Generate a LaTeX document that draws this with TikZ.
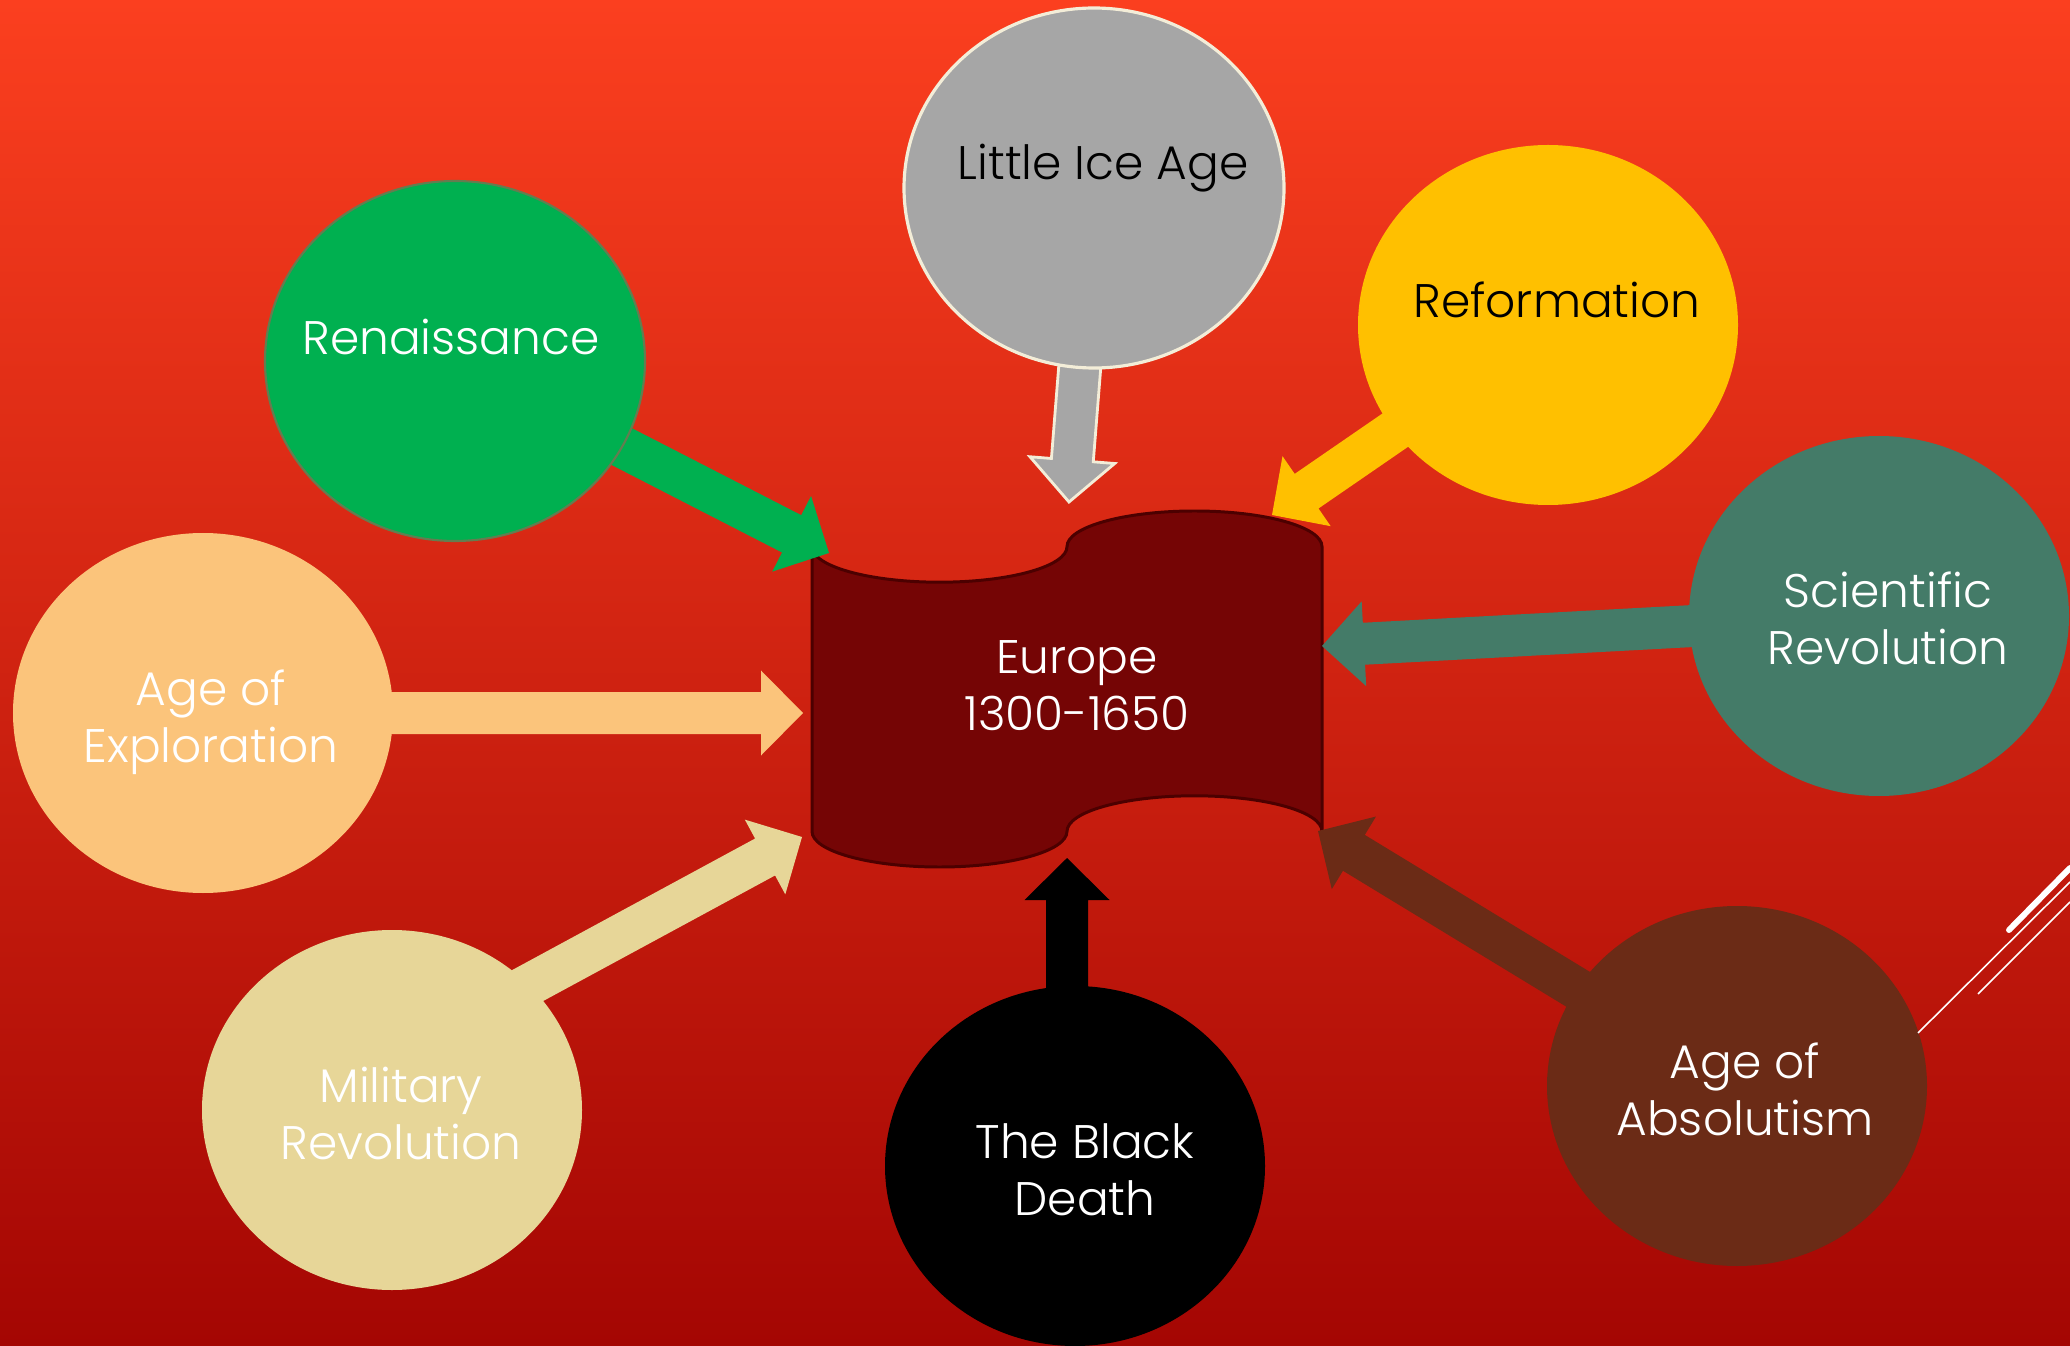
\documentclass[tikz,border=0pt]{standalone}
\usepackage{fontspec}
\setmainfont{Poppins}[UprightFont={* Light}]
\usepackage{tikz}
\usetikzlibrary{calc,shapes.geometric}

\definecolor{bgtop}{HTML}{FB3F1F}
\definecolor{bgmid}{HTML}{D42914}
\definecolor{bgbot}{HTML}{A40603}
\definecolor{eurfill}{HTML}{750505}
\definecolor{eurline}{HTML}{4C0000}
\definecolor{icegray}{HTML}{A6A6A6}
\definecolor{cream}{HTML}{F3EDD8}
\definecolor{rengreen}{HTML}{00B050}
\definecolor{renline}{HTML}{647D50}
\definecolor{refyellow}{HTML}{FFC000}
\definecolor{sciteal}{HTML}{447B68}
\definecolor{exporange}{HTML}{FBC47B}
\definecolor{miltan}{HTML}{E7D698}
\definecolor{absbrown}{HTML}{6B2B16}

% 块状箭头：#1 起点，#2 箭头尖，#3 填充样式
\newcommand{\blockarrow}[3]{%
  \coordinate (hb) at ($(#2)!4.2mm!(#1)$);
  \path[#3] ($(#1)!2.1mm!90:(#2)$) -- ($(hb)!2.1mm!90:(#2)$)
    -- ($(hb)!4.25mm!90:(#2)$) -- (#2) -- ($(hb)!4.25mm!-90:(#2)$)
    -- ($(hb)!2.1mm!-90:(#2)$) -- ($(#1)!2.1mm!-90:(#2)$) -- cycle;
}

\begin{document}
\begin{tikzpicture}[x=1cm,y=-1cm,
  bubble/.style={ellipse, minimum width=3.8cm, minimum height=3.6cm, inner sep=0pt},
  bubbletext/.style={font=\fontsize{13.4}{16.2}\selectfont, align=center, anchor=base}]

  % ====== 1) 背景 ======
  \shade[top color=bgtop, middle color=bgmid, bottom color=bgbot] (0,0) rectangle (20.70,13.46);
  \useasboundingbox (0,0) rectangle (20.70,13.46);

  % ====== 2) 中心的“纸带”形状 ======
  \draw[fill=eurfill, draw=eurline, line width=0.85pt]
    (8.12,5.466) arc[start angle=180, end angle=0, x radius=1.275, y radius=0.356]
    arc[start angle=180, end angle=360, x radius=1.275, y radius=0.356]
    -- (13.22,8.314)
    arc[start angle=0, end angle=-180, x radius=1.275, y radius=0.356]
    arc[start angle=0, end angle=180, x radius=1.275, y radius=0.356]
    -- cycle;
  \node[bubbletext, text=white] (eurtxt) at (10.77,7.30) {Europe\\1300-1650}; % base = 末行基线

  % ====== 3) 椭圆的位置 ======
  \coordinate (icec) at (10.94,1.88);
  \coordinate (renc) at (4.55,3.61);
  \coordinate (refc) at (15.48,3.25);
  \coordinate (scic) at (18.79,6.16);
  \coordinate (expc) at (2.03,7.13);
  \coordinate (milc) at (3.92,11.10);
  \coordinate (blkc) at (10.75,11.66);
  \coordinate (absc) at (17.37,10.86);

  % ====== 4) 箭头尖（落在中心形状边上） ======
  \coordinate (icetip) at (10.69,5.02);
  \coordinate (rentip) at (8.29,5.53);
  \coordinate (reftip) at (12.72,5.15);
  \coordinate (scitip) at (13.22,6.46);
  \coordinate (exptip) at (8.03,7.13);
  \coordinate (miltip) at (8.02,8.37);
  \coordinate (blktip) at (10.67,8.58);
  \coordinate (abstip) at (13.18,8.31);
  \coordinate (milstart) at ($(milc)+(0,-0.51)$);
  \coordinate (blkstart) at ($(blkc)+(-0.08,0)$);

  % ====== 5) 块状箭头（画在椭圆下面） ======
  \blockarrow{icec}{icetip}{fill=icegray, draw=cream, line width=0.8pt}
  \blockarrow{renc}{rentip}{fill=rengreen}
  \blockarrow{refc}{reftip}{fill=refyellow}
  \blockarrow{scic}{scitip}{fill=sciteal}
  \blockarrow{expc}{exptip}{fill=exporange}
  \blockarrow{milstart}{miltip}{fill=miltan}
  \blockarrow{blkstart}{blktip}{fill=black}
  \blockarrow{absc}{abstip}{fill=absbrown}

  % ====== 6) 椭圆 ======
  \node[bubble, fill=icegray, draw=cream, line width=0.9pt] (ice) at (icec) {};
  \node[bubble, fill=rengreen, draw=renline, line width=0.6pt] (ren) at (renc) {};
  \node[bubble, fill=refyellow] (ref) at (refc) {};
  \node[bubble, fill=sciteal] (sci) at (scic) {};
  \node[bubble, fill=exporange] (exp) at (expc) {};
  \node[bubble, fill=miltan] (mil) at (milc) {};
  \node[bubble, fill=black] (blk) at (blkc) {};
  \node[bubble, fill=absbrown] (abs) at (absc) {};

  % ====== 7) 文字（两行的取末行基线） ======
  \node[bubbletext] (icetxt) at (11.03,1.80) {Little Ice Age};
  \node[bubbletext, text=white] (rentxt) at (4.51,3.55) {Renaissance};
  \node[bubbletext] (reftxt) at (15.57,3.18) {Reformation};
  \node[bubbletext, text=white] (scitxt) at (18.88,6.64) {Scientific\\Revolution};
  \node[bubbletext, text=white] (exptxt) at (2.11,7.62) {Age of\\Exploration};
  \node[bubbletext, text=white] (miltxt) at (4.01,11.59) {Military\\Revolution};
  \node[bubbletext, text=white] (blktxt) at (10.85,12.15) {The Black\\Death};
  \node[bubbletext, text=white] (abstxt) at (17.45,11.35) {Age of\\Absolutism};

  % ====== 8) 右下角的装饰线 ======
  \draw[white, line width=1.7pt, line cap=round] (20.70,8.68) -- (20.09,9.30);
  \draw[white, line width=0.45pt] (20.70,8.82) -- (19.18,10.33);
  \draw[white, line width=0.45pt] (20.70,9.02) -- (19.78,9.94);

\end{tikzpicture}
\end{document}
